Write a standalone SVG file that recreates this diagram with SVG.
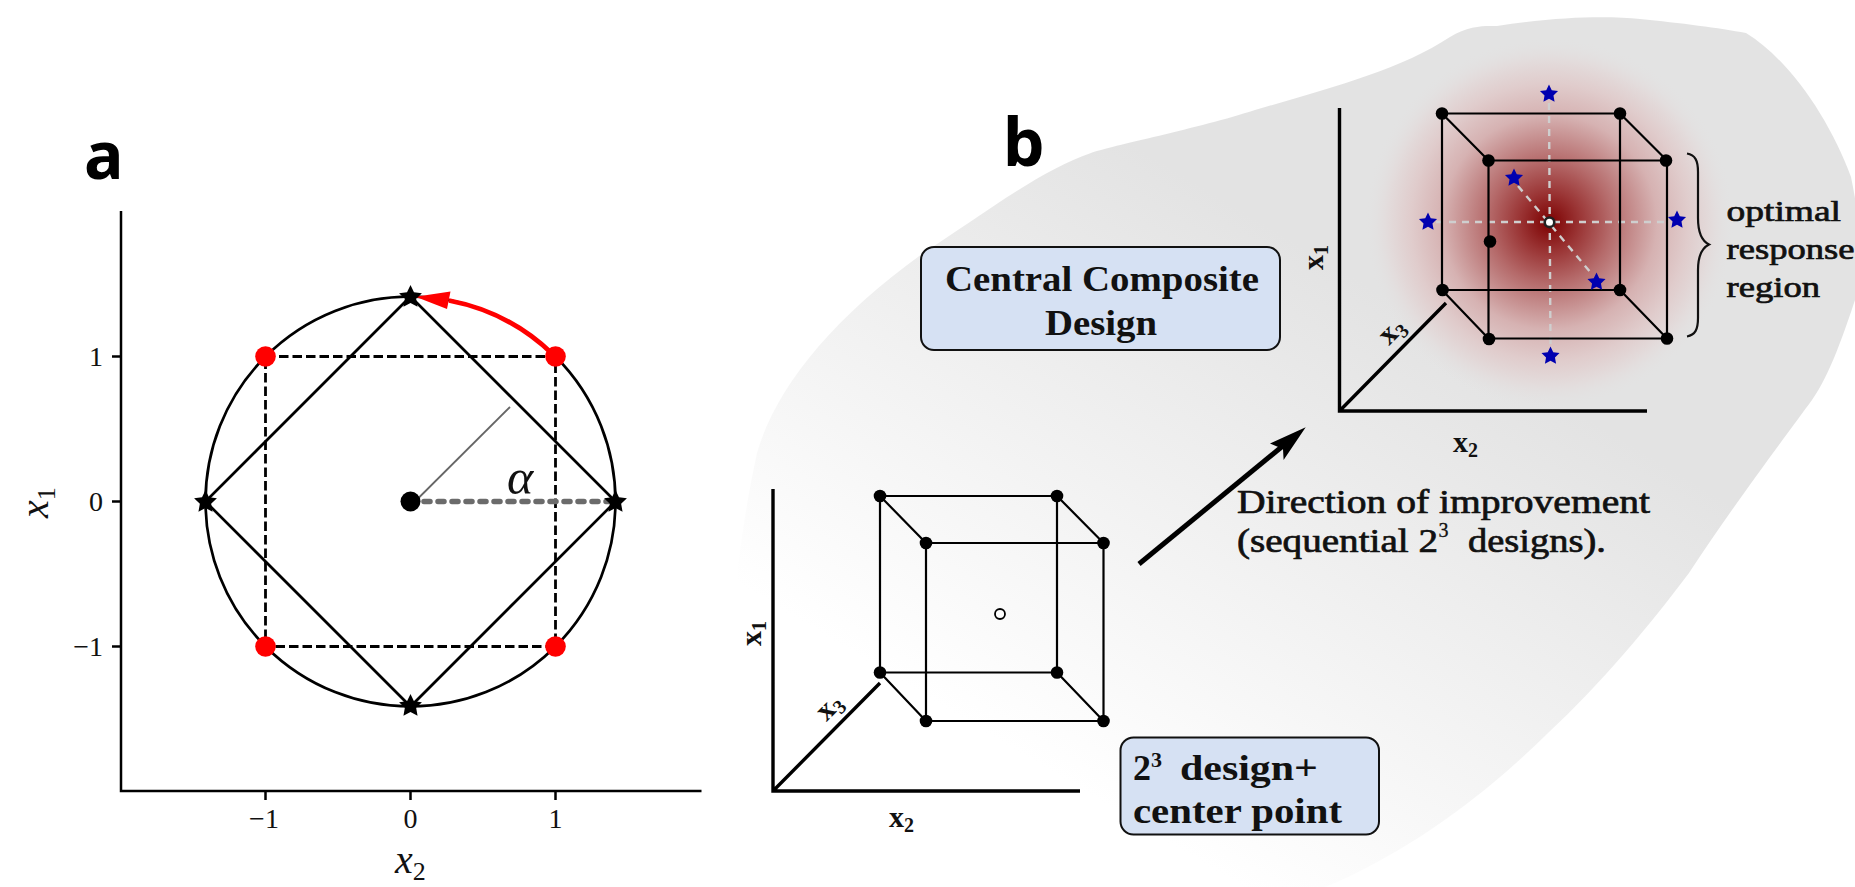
<svg xmlns="http://www.w3.org/2000/svg" width="1855" height="887" viewBox="0 0 1855 887">
<style>
text{font-family:"Liberation Serif","Times New Roman",serif;fill:#111}
.tick{font-size:28px}
.math{font-size:40px;font-style:italic}
.sub{font-size:26px;font-style:normal}
.panel{font-family:"Noto Sans","Open Sans",sans-serif;font-weight:700;font-size:66px;fill:#000}
.ax{stroke:#000;stroke-width:2.5;fill:none}
.thin{stroke:#000;stroke-width:2.7;fill:none}
.dash{stroke:#000;stroke-width:2.8;fill:none;stroke-dasharray:9.5 4}
.box{fill:#d6e1f3;stroke:#111;stroke-width:2}
.head{font-size:36px;font-weight:700}
.body{font-size:33px;font-weight:400;stroke:#111;stroke-width:.7px}
.side{font-size:30px;font-weight:400;stroke:#111;stroke-width:.7px}
.lab{font-size:30px;font-weight:700}
.lab2{font-size:20px;font-weight:700}
.cube{stroke:#000;stroke-width:2.2;fill:none}
.axis3{stroke:#000;stroke-width:3.4;fill:none}
.guide{stroke:#cfcfcf;stroke-width:2.4;fill:none;stroke-dasharray:7 6}
</style>
<defs>
<linearGradient id="bg" gradientUnits="userSpaceOnUse" x1="795" y1="618" x2="1094" y2="121">
<stop offset="0" stop-color="#fff"/><stop offset="1" stop-color="#e3e3e3"/>
</linearGradient>
<radialGradient id="hot" gradientUnits="userSpaceOnUse" cx="1549.5" cy="222.3" r="185">
<stop offset="0" stop-color="#7c0000"/>
<stop offset=".16" stop-color="#9a3434"/>
<stop offset=".33" stop-color="#b56a6a"/>
<stop offset=".58" stop-color="#d6b2b2"/>
<stop offset=".75" stop-color="#e0cccc"/>
<stop offset=".88" stop-color="#e3dcdc"/>
<stop offset="1" stop-color="#e3e3e3" stop-opacity="0"/>
</radialGradient>
<polygon id="star" points="0,-1 .29,-.4 .951,-.309 .47,.153 .588,.809 0,.5 -.588,.809 -.47,.153 -.951,-.309 -.29,-.4"/>
</defs>

<g id="panel-a">
<text class="panel" x="84" y="179">a</text>
<g id="plot-axes">
<path class="ax" d="M121 211V791H701.500"/>
<path class="ax" d="M112 356.500H121M112 501.500H121M112 646.500H121M265.500 791V800M410.500 791V800M555.500 791V800"/>
<text class="tick" text-anchor="end" x="103" y="366">1</text>
<text class="tick" text-anchor="end" x="103" y="511">0</text>
<text class="tick" text-anchor="end" x="103" y="656">−1</text>
<text class="tick" text-anchor="middle" x="264" y="828">−1</text>
<text class="tick" text-anchor="middle" x="410.500" y="828">0</text>
<text class="tick" text-anchor="middle" x="555.500" y="828">1</text>
<text class="math" x="395" y="873">x<tspan class="sub" dy="7">2</tspan></text>
<text class="math" transform="rotate(-90 48 518)" x="48" y="518">x<tspan class="sub" dy="7">1</tspan></text>
</g>
<g id="plot-shapes">
<circle class="thin" cx="410.500" cy="501.500" r="205"/>
<path class="dash" d="M265.500 356.500H555.500V646.500H265.500Z"/>
<path class="thin" d="M410.500 296.500L615.500 501.500L410.500 706.500L205.500 501.500Z"/>
<path d="M416.500 500L510 407" stroke="#666" stroke-width="1.800" fill="none"/>
<path d="M424 501.500H612" stroke="#6b6b6b" stroke-width="5.500" stroke-linecap="round" stroke-dasharray="6 8" fill="none"/>
<text class="math" style="font-size:50px" x="507" y="494">α</text>
<circle cx="410.500" cy="501.500" r="10"/>
<g fill="#f00"><circle cx="265.500" cy="356.500" r="10.300"/><circle cx="555.500" cy="356.500" r="10.300"/><circle cx="265.500" cy="646.500" r="10.300"/><circle cx="555.500" cy="646.500" r="10.300"/></g>
<path d="M552.500 354A205 205 0 0 0 449 300.500" stroke="#f00" stroke-width="4.800" fill="none"/>
<path d="M415.500 296.700L450.500 291.500L447 309Z" fill="#f00"/>
<use href="#star" transform="translate(410.500 297) scale(12)"/>
<use href="#star" transform="translate(615.500 502) scale(12)"/>
<use href="#star" transform="translate(205.500 502) scale(12)"/>
<use href="#star" transform="translate(410.500 706) scale(12)"/>
</g>
</g>

<g id="panel-b">
<path id="region" fill="url(#bg)" d="M735 887C722 760 725 600 757 453C775 390 830 320 922 254C975 220 1040 170 1091 153C1110 146 1200 128 1255 110C1330 88 1400 70 1450 37C1470 24 1490 26 1497 26C1560 16 1610 16 1640 19C1680 23 1720 28 1746 33C1790 60 1830 120 1851 177C1862 230 1865 280 1855 300C1845 330 1830 375 1812 400C1790 430 1730 510 1689 573C1650 625 1600 685 1548 733C1490 790 1420 845 1335 883L1325 887Z"/>
<text class="panel" x="1003" y="166">b</text>
<circle id="optimum-glow" cx="1549.500" cy="222.300" r="185" fill="url(#hot)"/>

<g id="box-ccd">
<rect class="box" x="921" y="247" width="359" height="103" rx="13"/>
<text class="head" x="945" y="291" textLength="314" lengthAdjust="spacingAndGlyphs">Central Composite</text>
<text class="head" x="1045" y="335" textLength="112" lengthAdjust="spacingAndGlyphs">Design</text>
</g>

<g id="box-23">
<rect class="box" x="1120.500" y="737.500" width="258.500" height="97" rx="13"/>
<text class="head" x="1133" y="780">2</text>
<text class="lab2" style="font-size:22px" x="1151" y="767">3</text>
<text class="head" x="1180" y="780" textLength="138" lengthAdjust="spacingAndGlyphs">design+</text>
<text class="head" x="1133" y="823" textLength="209" lengthAdjust="spacingAndGlyphs">center point</text>
</g>

<g id="cube-lower">
<path class="axis3" d="M773 489V791H1080M773 791L880 683"/>
<path class="cube" d="M880 496H1057V672.500H880ZM926 543H1103.500V721H926ZM880 496L926 543M1057 496L1103.500 543M880 672.500L926 721M1057 672.500L1103.500 721"/>
<g><circle cx="880" cy="496" r="6.300"/><circle cx="1057" cy="496" r="6.300"/><circle cx="926" cy="543" r="6.300"/><circle cx="1103.500" cy="543" r="6.300"/><circle cx="880" cy="672.500" r="6.300"/><circle cx="1057" cy="672.500" r="6.300"/><circle cx="926" cy="721" r="6.300"/><circle cx="1103.500" cy="721" r="6.300"/></g>
<circle cx="1000" cy="614" r="5" fill="#fff" stroke="#000" stroke-width="1.800"/>
<text class="lab" transform="rotate(-90 761 646)" x="761" y="646">x<tspan class="lab2" dy="5">1</tspan></text>
<text class="lab" x="889" y="827">x<tspan class="lab2" dy="5">2</tspan></text>
<text class="lab" transform="rotate(-45 826.500 722)" x="826.500" y="722">x<tspan class="lab2" dy="5">3</tspan></text>
</g>

<g id="cube-upper">
<path class="axis3" d="M1339.500 108V411H1647M1339.500 411L1446 303"/>
<path class="guide" d="M1549 103L1550.500 346M1436 222H1668M1518 186L1591 273"/>
<path class="cube" d="M1442 113.500H1620V290H1442ZM1488.500 160.500H1667V338.500H1488.500ZM1442 113.500L1488.500 160.500M1620 113.500L1667 160.500M1442 290L1488.500 338.500M1620 290L1667 338.500"/>
<g><circle cx="1442" cy="113.500" r="6.300"/><circle cx="1620" cy="113.500" r="6.300"/><circle cx="1488.500" cy="160.500" r="6.300"/><circle cx="1666" cy="160.500" r="6.300"/><circle cx="1442.500" cy="290" r="6.300"/><circle cx="1620" cy="290" r="6.300"/><circle cx="1489" cy="339" r="6.300"/><circle cx="1667" cy="338.500" r="6.300"/><circle cx="1490" cy="241.500" r="6.300"/></g>
<circle cx="1549.500" cy="222.300" r="4.800" fill="#fff" stroke="#222" stroke-width="2.600"/>
<g fill="#0000b0">
<use href="#star" transform="translate(1549 94) scale(9.500)"/>
<use href="#star" transform="translate(1550.500 356) scale(9.500)"/>
<use href="#star" transform="translate(1428 222) scale(9.500)"/>
<use href="#star" transform="translate(1677 220) scale(9.500)"/>
<use href="#star" transform="translate(1514 178) scale(9.500)"/>
<use href="#star" transform="translate(1596.500 282) scale(9.500)"/>
</g>
<text class="lab" transform="rotate(-90 1323 270)" x="1323" y="270">x<tspan class="lab2" dy="5">1</tspan></text>
<text class="lab" x="1453" y="452">x<tspan class="lab2" dy="5">2</tspan></text>
<text class="lab" transform="rotate(-45 1389 346)" x="1389" y="346">x<tspan class="lab2" dy="5">3</tspan></text>
<path d="M1687 153.500C1695 155 1698 160 1698 172V218C1698 232 1702 241 1709 244.500C1702 248 1698 257 1698 270V318C1698 330 1695 335 1687 336.500" fill="none" stroke="#111" stroke-width="2.200"/>
<text class="side" x="1726.500" y="221" textLength="114.500" lengthAdjust="spacingAndGlyphs">optimal</text>
<text class="side" x="1726.500" y="259" textLength="128" lengthAdjust="spacingAndGlyphs">response</text>
<text class="side" x="1726.500" y="297" textLength="93.500" lengthAdjust="spacingAndGlyphs">region</text>
</g>

<g id="connectors">
<path d="M1139 564L1290 440" stroke="#000" stroke-width="5" fill="none"/>
<path d="M1305.700 427.300L1270 443.500L1283 449L1283.600 460Z" fill="#000"/>
</g>
<g id="direction-label">
<text class="body" x="1237" y="513" textLength="413" lengthAdjust="spacingAndGlyphs">Direction of improvement</text>
<text class="body" x="1237" y="552" textLength="201" lengthAdjust="spacingAndGlyphs">(sequential 2</text>
<text class="body" style="font-size:20px;stroke-width:.3px" x="1438.500" y="537">3</text>
<text class="body" x="1468" y="552" textLength="138" lengthAdjust="spacingAndGlyphs">designs).</text>
</g>
</g>
</svg>
